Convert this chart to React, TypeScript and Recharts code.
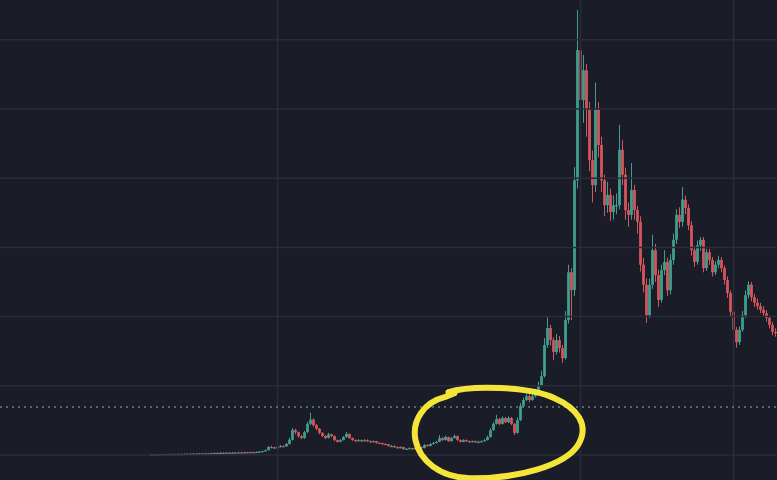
import { ComposedChart, Bar, XAxis, YAxis, ReferenceLine, ReferenceDot } from 'recharts';

// price path, one candle per period (open = previous close)
const closes = [
  0.05, 0.08, 0.06, 0.1, 0.08, 0.12, 0.1, 0.14, 0.12, 0.15,
  0.13, 0.17, 0.15, 0.18, 0.2, 0.16, 0.22, 0.2, 0.24, 0.22,
  0.26, 0.3, 0.28, 0.32, 0.3, 0.34, 0.32, 0.36, 0.35, 0.38,
  0.36, 0.4, 0.38, 0.42, 0.4, 0.45, 0.5, 0.55, 0.7, 1.15,
  1.1, 1.0, 1.15, 1.3, 1.25, 1.6, 2.2, 3.6, 3.3, 2.7,
  2.45, 3.3, 4.5, 5.1, 4.3, 3.8, 3.2, 2.75, 2.45, 3.0,
  2.75, 2.15, 1.9, 2.15, 2.6, 3.05, 2.45, 2.15, 2.0, 2.15,
  2.0, 2.15, 2.0, 1.9, 2.0, 1.75, 1.7, 1.6, 1.55, 1.3,
  1.3, 1.15, 1.0, 1.15, 0.85, 0.9, 1.0, 0.85, 1.0, 1.15,
  1.0, 1.45, 1.3, 1.6, 1.75, 1.9, 2.45, 2.15, 2.6, 2.0,
  2.45, 2.75, 2.15, 1.9, 2.15, 2.0, 1.9, 2.0, 1.9, 1.9,
  2.0, 2.15, 2.6, 3.6, 4.5, 5.2, 4.5, 5.35, 4.75, 5.35,
  4.5, 3.2, 5.05, 7.1, 7.95, 8.5, 7.95, 8.5, 9.1, 10.1,
  11.4, 15.9, 18.35, 16.6, 14.9, 16.6, 15.45, 14.0, 19.5, 26.4,
  23.85, 39.7, 58.5, 51.3, 55.6, 49.9, 42.6, 39.0, 49.9, 44.8,
  39.7, 36.1, 37.6, 35.1, 36.1, 36.1, 44.1, 40.5, 35.4, 34.7,
  38.3, 35.4, 33.7, 27.5, 24.6, 20.2, 24.6, 29.6, 26.0, 22.4,
  26.7, 27.9, 23.8, 28.2, 31.1, 34.7, 33.7, 36.9, 35.7, 33.2,
  29.6, 27.9, 30.3, 31.1, 27.0, 29.3, 28.2, 26.4, 27.5, 28.2,
  27.0, 25.3, 23.4, 20.7, 18.1, 16.3, 18.1, 20.2, 23.1, 24.6,
  22.8, 22.0, 21.5, 21.0, 20.5, 19.8, 18.8, 17.8, 17.6,
];

const highs = [
  0.12, 0.14, 0.13, 0.16, 0.15, 0.18, 0.17, 0.2, 0.19, 0.22,
  0.21, 0.24, 0.23, 0.25, 0.27, 0.26, 0.29, 0.28, 0.31, 0.3,
  0.33, 0.37, 0.36, 0.39, 0.38, 0.41, 0.4, 0.43, 0.42, 0.45,
  0.44, 0.48, 0.46, 0.5, 0.48, 0.53, 0.58, 0.63, 0.8, 1.3,
  1.35, 1.2, 1.3, 1.45, 1.4, 1.75, 2.5, 3.9, 3.8, 3.4,
  2.9, 3.5, 4.8, 6.1, 5.3, 4.5, 3.9, 3.3, 2.9, 3.2,
  3.1, 2.85, 2.25, 2.3, 2.75, 3.35, 3.1, 2.55, 2.25, 2.3,
  2.25, 2.3, 2.25, 2.1, 2.1, 2.05, 1.85, 1.8, 1.7, 1.6,
  1.45, 1.4, 1.25, 1.25, 1.2, 1.0, 1.1, 1.05, 1.1, 1.25,
  1.2, 1.6, 1.55, 1.75, 1.9, 2.05, 2.9, 2.55, 2.8, 2.65,
  2.6, 2.95, 2.8, 2.25, 2.3, 2.25, 2.1, 2.1, 2.1, 2.05,
  2.1, 2.3, 2.8, 3.9, 4.8, 5.8, 5.4, 5.6, 5.5, 5.6,
  5.5, 4.6, 5.4, 7.5, 8.3, 8.9, 8.8, 8.9, 9.5, 10.6,
  12.2, 16.9, 19.9, 18.8, 17.0, 17.5, 17.2, 15.9, 20.8, 27.5,
  27.0, 41.6, 64.3, 62.9, 57.8, 56.5, 51.0, 44.0, 53.8, 51.0,
  46.0, 40.5, 39.5, 38.5, 37.5, 37.8, 47.7, 45.5, 41.5, 36.5,
  42.2, 39.0, 36.0, 34.5, 28.5, 25.5, 25.5, 31.8, 30.5, 26.8,
  27.5, 29.6, 28.5, 29.0, 32.0, 35.5, 35.8, 38.7, 37.5, 36.2,
  33.8, 30.2, 31.0, 31.5, 31.5, 29.8, 29.8, 28.6, 28.0, 28.8,
  28.6, 27.4, 25.8, 23.8, 21.2, 18.5, 18.6, 20.8, 23.8, 25.1,
  25.0, 23.3, 22.6, 22.0, 21.5, 20.9, 20.1, 19.2, 18.3,
];

const lows = [
  0, 0.02, 0.02, 0.03, 0.03, 0.05, 0.05, 0.07, 0.07, 0.08,
  0.08, 0.1, 0.1, 0.12, 0.14, 0.12, 0.14, 0.15, 0.17, 0.17,
  0.2, 0.23, 0.23, 0.25, 0.25, 0.27, 0.27, 0.29, 0.3, 0.32,
  0.31, 0.33, 0.33, 0.35, 0.35, 0.37, 0.42, 0.47, 0.5, 0.65,
  1.0, 0.9, 0.95, 1.1, 1.15, 1.2, 1.5, 2.1, 3.0, 2.5,
  2.3, 2.35, 3.2, 4.3, 4.1, 3.6, 3.0, 2.6, 2.3, 2.4,
  2.6, 2.0, 1.8, 1.85, 2.1, 2.5, 2.35, 2.05, 1.9, 1.95,
  1.9, 1.95, 1.9, 1.8, 1.85, 1.65, 1.6, 1.5, 1.45, 1.2,
  1.2, 1.05, 0.9, 0.95, 0.75, 0.75, 0.85, 0.75, 0.8, 0.95,
  0.9, 0.95, 1.2, 1.25, 1.5, 1.7, 1.85, 2.05, 2.1, 1.9,
  1.95, 2.4, 2.05, 1.8, 1.85, 1.9, 1.8, 1.85, 1.8, 1.8,
  1.85, 1.95, 2.1, 2.5, 3.5, 4.4, 4.3, 4.4, 4.6, 4.6,
  4.3, 2.9, 3.1, 4.9, 6.9, 7.8, 7.6, 7.8, 8.3, 8.9,
  9.9, 11.2, 15.5, 15.8, 13.7, 14.5, 14.8, 13.3, 13.8, 19.0,
  19.5, 23.0, 38.5, 44.0, 48.0, 46.0, 41.0, 36.5, 38.0, 43.0,
  38.0, 34.5, 35.0, 33.8, 34.0, 34.8, 35.5, 39.0, 34.0, 33.0,
  34.0, 34.0, 32.0, 26.5, 23.5, 19.1, 19.8, 24.0, 25.0, 21.4,
  22.0, 26.0, 23.0, 23.2, 27.5, 30.5, 32.8, 33.0, 34.8, 32.5,
  28.8, 27.2, 27.5, 29.5, 26.4, 26.6, 27.5, 25.8, 26.0, 27.0,
  26.4, 24.6, 22.7, 20.0, 17.3, 15.5, 15.9, 17.8, 19.8, 22.6,
  22.2, 21.4, 21.0, 20.5, 20.0, 19.3, 18.3, 17.3, 17.1,
];

const gridLevels = [0, 10, 20, 30, 40, 50, 60];
const gridDays = [42, 143, 194];
const markerLevel = 6.94;
const circleDay = 116;
const circleLevel = 3.3;

const BG = '#1a1c27';
const GRID = '#292c39';
const UP = '#3f9e8e';
const DOWN = '#d4565c';

const candles = closes.map((close, i) => ({
  day: i,
  open: i === 0 ? close : closes[i - 1],
  close,
  high: highs[i],
  low: lows[i],
  range: [lows[i], highs[i]],
}));

function Candle(props: any) {
  const { x, y, width, height, payload } = props;
  if (!payload) return null;
  const top = Math.min(y, y + height);
  const h = Math.abs(height);
  const { open, close, high, low } = payload;
  const perUnit = h / (high - low || 1);
  const yOpen = top + (high - open) * perUnit;
  const yClose = top + (high - close) * perUnit;
  const cx = x + width / 2;
  const color = close >= open ? UP : DOWN;
  const bodyTop = Math.min(yOpen, yClose);
  const bodyH = Math.max(Math.abs(yOpen - yClose), 1.2);
  return (
    <g>
      <line x1={cx} x2={cx} y1={top} y2={top + h} stroke={color} strokeWidth={1} />
      <rect x={cx - 1.4} y={bodyTop} width={2.8} height={bodyH} fill={color} />
    </g>
  );
}

// hand-drawn highlight loop around the breakout
function Loop(props: any) {
  const { cx, cy } = props;
  if (cx == null || cy == null) return null;
  const p = (dx: number, dy: number) => `${cx + dx} ${cy + dy}`;
  const d = [
    `M ${p(-51, -40)}`,
    `C ${p(-29, -47)} ${p(30, -46)} ${p(55, -34)}`,
    `C ${p(78, -24)} ${p(90, -7)} ${p(79, 12)}`,
    `C ${p(66, 34)} ${p(15, 47)} ${p(-30, 46)}`,
    `C ${p(-60, 45)} ${p(-80, 28)} ${p(-84, 8)}`,
    `C ${p(-88, -12)} ${p(-75, -30)} ${p(-55, -35)}`,
    `L ${p(-45, -39)}`,
  ].join(' ');
  return (
    <path d={d} fill="none" stroke="#f4e53a" strokeWidth={6} strokeLinecap="round" strokeLinejoin="round" />
  );
}

export default function App() {
  return (
    <div style={{ position: 'fixed', left: 0, top: 0, width: 777, height: 480, background: BG }}>
      <ComposedChart
        width={777}
        height={480}
        data={candles}
        margin={{ top: 0, right: 0, bottom: 0, left: 0 }}
        barCategoryGap={0}
        barGap={0}
      >
        <XAxis dataKey="day" hide padding={{ left: 150, right: 0 }} />
        <YAxis hide type="number" domain={[-3.61, 65.75]} allowDataOverflow />
        {gridLevels.map((v) => (
          <ReferenceLine key={`h${v}`} y={v} stroke={GRID} strokeWidth={1.5} />
        ))}
        {gridDays.map((d) => (
          <ReferenceLine key={`v${d}`} x={d} stroke={GRID} strokeWidth={1.5} />
        ))}
        <ReferenceLine y={markerLevel} stroke="#5e8488" strokeWidth={1.5} strokeDasharray="2 4" />
        <Bar dataKey="range" shape={<Candle />} isAnimationActive={false} />
        <ReferenceDot x={circleDay} y={circleLevel} shape={<Loop />} />
      </ComposedChart>
    </div>
  );
}
